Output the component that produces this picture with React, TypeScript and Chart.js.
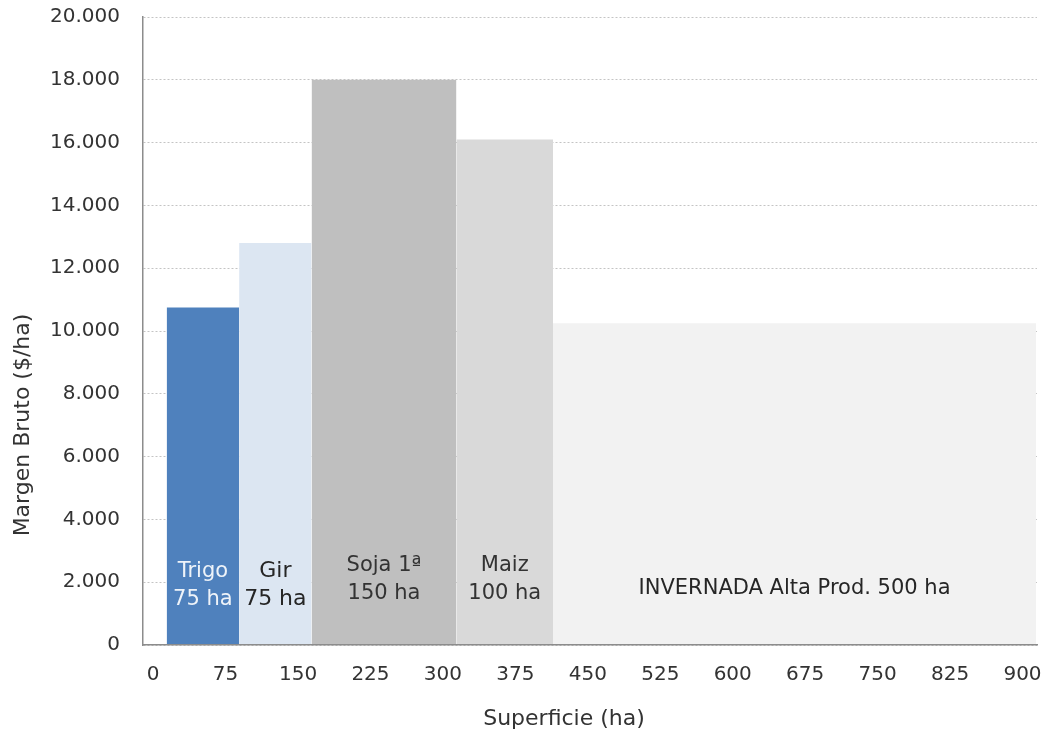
import React, { useEffect, useRef } from "react";
import { Chart, registerables } from "chart.js";

Chart.register(...registerables);

// ---- data ----
const crops = ["Trigo", "Gir", "Soja 1ª", "Maiz", "INVERNADA Alta Prod."];
const hectares = [75, 75, 150, 100, 500];
const margins = [10750, 12800, 18000, 16100, 10250];
const firstBarStart = 14; // ha, where the first block begins on the surface axis
const xTickValues = [0, 75, 150, 225, 300, 375, 450, 525, 600, 675, 750, 825, 900];
const yMin = 0;
const yMax = 20000;
const yStep = 2000;

// ---- styles ----
const barColors = ["#4F81BD", "#DCE6F2", "#BFBFBF", "#D9D9D9", "#F2F2F2"];
const labelColors = ["#eef3f9", "#262626", "#333333", "#333333", "#262626"];
const labelSizes = [21, 22, 21, 21, 21];
const labelLift = [59, 60, 65, 65, 56];
const FONT = "'DejaVu Sans', sans-serif";
const TEXT = "#333333";

function fmt(v: number): string {
  return String(Math.round(v)).replace(/\B(?=(\d{3})+(?!\d))/g, ".");
}

const starts: number[] = [];
const ends: number[] = [];
{
  let s = firstBarStart;
  for (const h of hectares) {
    starts.push(s);
    ends.push(s + h);
    s += h;
  }
}

const labelLines = crops.map((c, i) =>
  i < crops.length - 1 ? [c, `${hectares[i]} ha`] : [`${c} ${hectares[i]} ha`]
);

const labelsPlugin = {
  id: "barLabels",
  afterDatasetsDraw(chart: any) {
    const { ctx, scales } = chart;
    const xs = scales.x;
    const ys = scales.y;
    const base = ys.getPixelForValue(0);
    ctx.save();
    ctx.textAlign = "center";
    ctx.textBaseline = "middle";
    labelLines.forEach((lines, i) => {
      const cx = (xs.getPixelForValue(starts[i]) + xs.getPixelForValue(ends[i])) / 2;
      const cy = base - labelLift[i];
      const lh = 28;
      ctx.font = `${labelSizes[i]}px ${FONT}`;
      ctx.fillStyle = labelColors[i];
      lines.forEach((t, j) => {
        const y = cy + (j - (lines.length - 1) / 2) * lh;
        ctx.fillText(t, cx, y);
      });
    });
    ctx.restore();
  },
  afterDraw(chart: any) {
    const { ctx, chartArea } = chart;
    ctx.save();
    ctx.fillStyle = TEXT;
    ctx.font = `22px ${FONT}`;
    ctx.textAlign = "center";
    ctx.textBaseline = "middle";
    // x title
    ctx.fillText("Superficie (ha)", 564, chartArea.bottom + 74);
    // y title
    ctx.translate(23, 425);
    ctx.rotate(-Math.PI / 2);
    ctx.fillText("Margen Bruto ($/ha)", 0, 0);
    ctx.restore();
  },
};

export default function App() {
  const ref = useRef<HTMLCanvasElement | null>(null);

  useEffect(() => {
    if (!ref.current) return;
    const datasets = crops.map((c, i) => ({
      label: c,
      data: [
        { x: starts[i], y: margins[i] },
        { x: ends[i], y: margins[i] },
      ],
      fill: "origin",
      backgroundColor: barColors[i],
      borderColor: "rgba(0,0,0,0)",
      borderWidth: 0,
      pointRadius: 0,
      pointHoverRadius: 0,
      tension: 0,
    }));

    const chart = new Chart(ref.current, {
      type: "line",
      data: { datasets } as any,
      plugins: [labelsPlugin],
      options: {
        animation: false,
        responsive: false,
        maintainAspectRatio: false,
        events: [],
        layout: { padding: { left: 0, right: 14, top: 17, bottom: 0 } },
        plugins: {
          legend: { display: false },
          tooltip: { enabled: false },
          title: { display: false },
        },
        scales: {
          x: {
            type: "linear",
            min: -10.5,
            max: 915,
            afterBuildTicks(scale: any) {
              scale.ticks = xTickValues.map((v) => ({ value: v }));
            },
            afterFit(scale: any) {
              scale.height = 92;
              scale.paddingLeft = 0;
              scale.paddingRight = 0;
            },
            grid: { display: false, drawTicks: false },
            border: { display: true, color: "#8c8c8c", width: 1.5, z: 1 },
            ticks: {
              padding: 18,
              color: TEXT,
              font: { family: FONT, size: 20 },
              maxRotation: 0,
              autoSkip: false,
              callback: (v: any) => String(v),
            },
          },
          y: {
            type: "linear",
            min: yMin,
            max: yMax,
            afterFit(scale: any) {
              scale.width = 143;
              scale.paddingTop = 0;
              scale.paddingBottom = 0;
            },
            grid: { display: true, color: "#c4c4c4", lineWidth: 1, drawTicks: false },
            border: { display: true, color: "#8c8c8c", width: 1.5, dash: [2, 2], z: 1 },
            ticks: {
              stepSize: yStep,
              padding: 23,
              color: TEXT,
              font: { family: FONT, size: 20 },
              callback: (v: any) => fmt(Number(v)),
            },
          },
        },
      } as any,
    });
    return () => chart.destroy();
  }, []);

  return (
    <div style={{ position: "fixed", left: 0, top: 0, width: 1051, height: 737, background: "#fff" }}>
      <canvas ref={ref} width={1051} height={737} style={{ display: "block", width: 1051, height: 737 }} />
    </div>
  );
}
